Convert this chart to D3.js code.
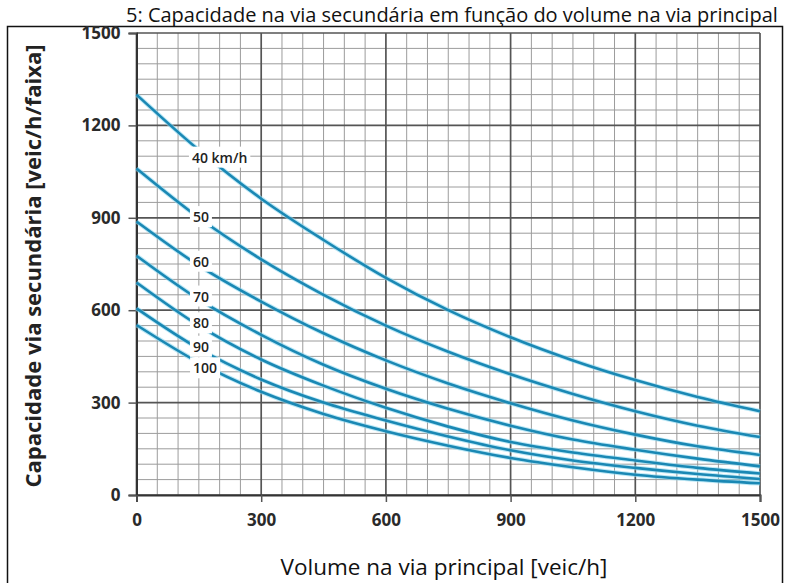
<!DOCTYPE html>
<html><head><meta charset="utf-8">
<script src="https://cdn.jsdelivr.net/npm/d3@7"></script>
<style>
html,body{margin:0;padding:0;background:#fff;}
svg{display:block;}
</style></head>
<body>
<svg id="chart" width="790" height="583"></svg>
<script>
// ---- data ----
const volume = [0,150,300,450,600,750,900,1050,1200,1350,1500];
const speedLabels = ["40 km/h","50","60","70","80","90","100"];
const cap40  = [1300,1120,962,828,705,600,512,437,373,318,272];
const cap50  = [1060,900,765,650,550,465,392,328,272,225,188];
const cap60  = [888,745,628,525,437,362,298,242,196,158,130];
const cap70  = [777,635,520,423,345,280,225,180,147,118,93];
const cap80  = [690,550,440,355,283,222,172,138,112,88,70];
const cap90  = [606,475,375,300,242,190,145,112,88,68,52];
const cap100 = [552,430,335,263,207,160,120,90,66,50,38];
const xTicks = [0,300,600,900,1200,1500];
const yTicks = [0,300,600,900,1200,1500];
const titleText = "5: Capacidade na via secundária em função do volume na via principal";
const xTitle = "Volume na via principal [veic/h]";
const yTitle = "Capacidade via secundária [veic/h/faixa]";
// label anchors (data units) for curve annotations
const labelVol = [200,155,155,155,155,155,165];
const labelCap = [1095,902,757,644,557,481,411];

const series = [cap40,cap50,cap60,cap70,cap80,cap90,cap100];

const svg = d3.select("#chart");
const L = 136.5, R = 760, T = 33, B = 495;
const x = d3.scaleLinear().domain([0,1500]).range([L,R]);
const y = d3.scaleLinear().domain([0,1500]).range([B,T]);

// frame
svg.append("rect").attr("x",7.5).attr("y",26.5).attr("width",775).attr("height",600)
  .attr("fill","none").attr("stroke","#111").attr("stroke-width",1.5);

// title
svg.append("text").attr("x",126).attr("y",21.8).attr("font-family","Open Sans").attr("font-size",20)
  .attr("fill","#111").text(titleText);

// grid
const minor = d3.range(0,1501,50);
const g = svg.append("g");
g.selectAll("line.vx").data(minor.filter(v=>v%300!==0)).enter().append("line")
  .attr("x1",d=>x(d)).attr("x2",d=>x(d)).attr("y1",y(0)).attr("y2",y(1500))
  .attr("stroke","#9c9c9c").attr("stroke-width",1);
g.selectAll("line.hy").data(minor.filter(v=>v%300!==0)).enter().append("line")
  .attr("y1",d=>y(d)).attr("y2",d=>y(d)).attr("x1",x(0)).attr("x2",x(1500))
  .attr("stroke","#9c9c9c").attr("stroke-width",1);
g.selectAll("line.mx").data(xTicks).enter().append("line")
  .attr("x1",d=>x(d)).attr("x2",d=>x(d)).attr("y1",y(0)).attr("y2",y(1500))
  .attr("stroke","#555").attr("stroke-width",1.7);
g.selectAll("line.my").data(yTicks).enter().append("line")
  .attr("y1",d=>y(d)).attr("y2",d=>y(d)).attr("x1",x(0)).attr("x2",x(1500))
  .attr("stroke","#555").attr("stroke-width",1.7);

// axes
const yAxis = svg.append("g").attr("transform",`translate(${L},0)`)
  .call(d3.axisLeft(y).tickValues(yTicks).tickSize(8).tickPadding(8).tickFormat(d3.format("d")));
const xAxis = svg.append("g").attr("transform",`translate(0,${B})`)
  .call(d3.axisBottom(x).tickValues(xTicks).tickSize(7).tickPadding(8).tickFormat(d3.format("d")));
[xAxis,yAxis].forEach(a=>{
  a.select(".domain").attr("stroke","#333").attr("stroke-width",2);
  a.selectAll(".tick line").attr("stroke","#555").attr("stroke-width",1.5);
  a.selectAll("text").attr("font-family","Open Sans").attr("font-weight",700)
    .attr("font-size",17).attr("fill","#2a2a2a");
});
xAxis.selectAll("text").attr("y",25).attr("dy","0.35em");

// curves
const line = d3.line().x((d,i)=>x(volume[i])).y(d=>y(d)).curve(d3.curveMonotoneX);
const cg = svg.append("g");
series.forEach(s=>{
  cg.append("path").attr("d",line(s)).attr("fill","none")
    .attr("stroke","#8fd8f0").attr("stroke-width",4.6).attr("stroke-opacity",0.6);
  cg.append("path").attr("d",line(s)).attr("fill","none")
    .attr("stroke","#1a88b4").attr("stroke-width",2.6);
});

// curve labels with white background
speedLabels.forEach((lab,i)=>{
  const lg = svg.append("g");
  const t = lg.append("text").attr("x",x(labelVol[i])).attr("y",y(labelCap[i]))
    .attr("text-anchor","middle").attr("dy","0.35em")
    .attr("font-family","Open Sans").attr("font-weight",600).attr("font-size",14)
    .attr("fill","#222").text(lab);
  const bb = t.node().getBBox();
  lg.insert("rect","text").attr("x",bb.x-3).attr("y",bb.y-1).attr("width",bb.width+6)
    .attr("height",bb.height+2).attr("fill","#fff");
});

// axis titles
svg.append("text").attr("transform",`translate(41,${(T+B)/2+2}) rotate(-90)`)
  .attr("text-anchor","middle").attr("font-family","Open Sans").attr("font-weight",700)
  .attr("font-size",22).attr("fill","#222").text(yTitle);
svg.append("text").attr("x",444).attr("y",575).attr("text-anchor","middle")
  .attr("font-family","Open Sans").attr("font-weight",400).attr("font-size",22.5)
  .attr("fill","#111").text(xTitle);
</script>
</body></html>
